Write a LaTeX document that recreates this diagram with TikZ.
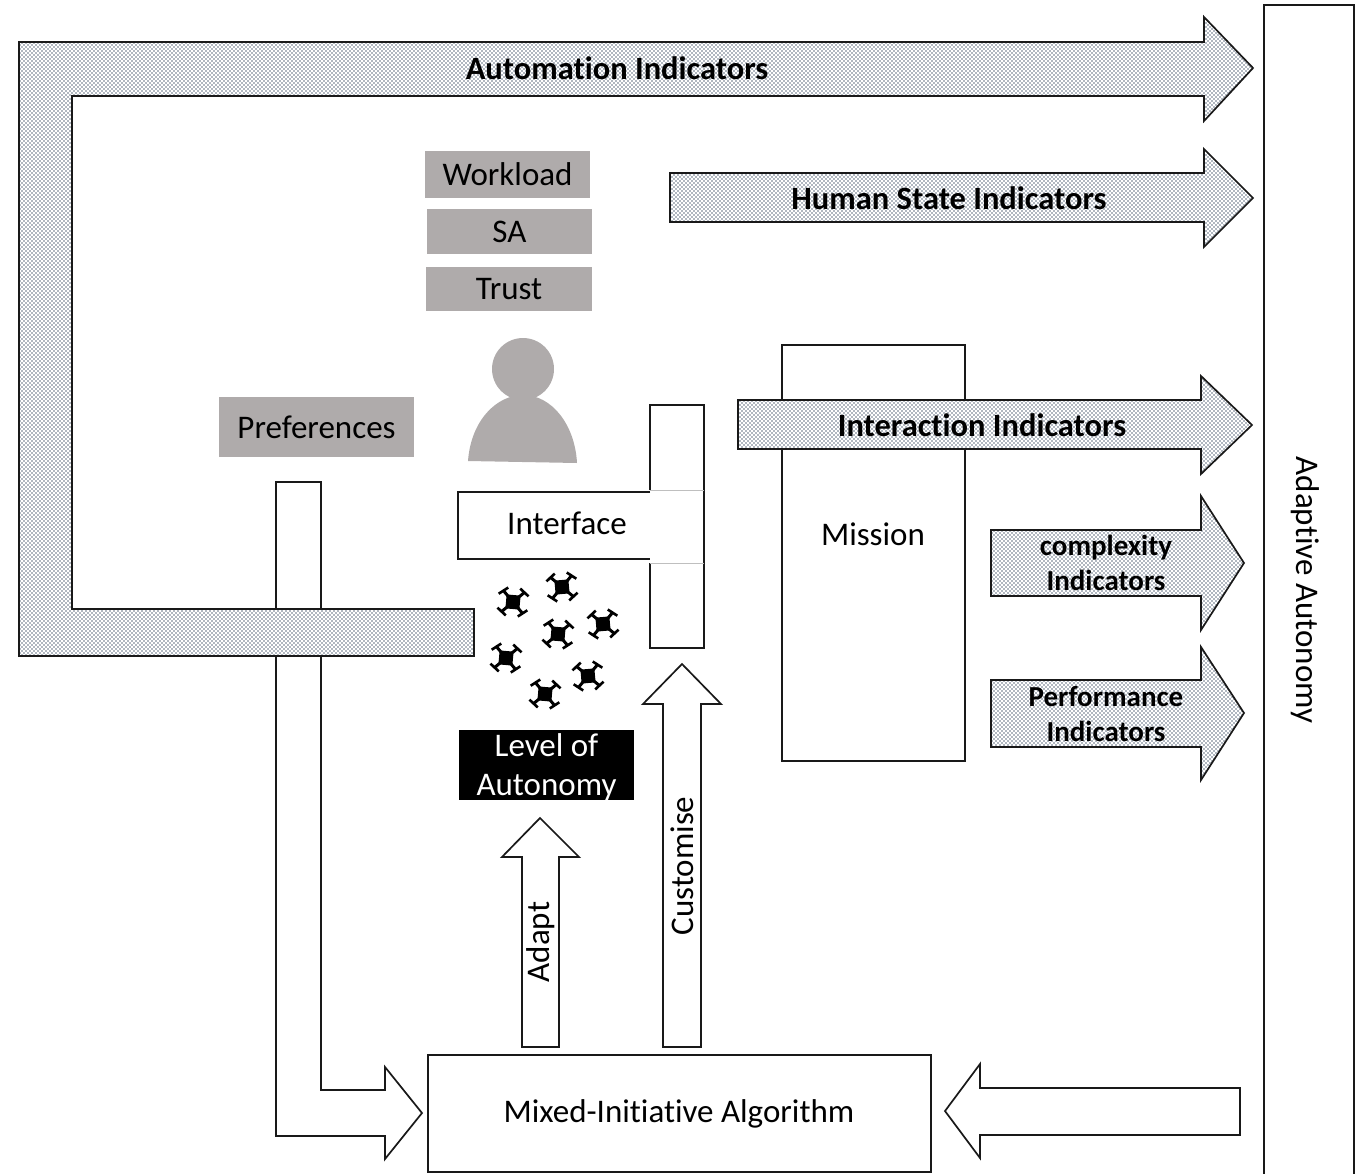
\documentclass[tikz,border=0pt]{standalone}
\usepackage{fontspec}
\setmainfont[RawFeature={-liga}]{Carlito}
\usetikzlibrary{patterns}
\definecolor{boxgrey}{HTML}{AFABAB}
\definecolor{dotblue}{HTML}{44546A}
\pgfdeclarepatternformonly{coarsedots}{\pgfqpoint{-1pt}{-1pt}}{\pgfqpoint{3pt}{3pt}}{\pgfqpoint{4pt}{4pt}}
{
  \pgfpathcircle{\pgfqpoint{0pt}{0pt}}{.8pt}
  \pgfpathcircle{\pgfqpoint{2pt}{2pt}}{.8pt}
  \pgfusepath{fill}
}
\tikzset{
  hatched/.style={draw=black!90, line width=1.7pt, pattern=coarsedots, pattern color=dotblue!85, preaction={fill=white}},
  hollow/.style={draw=black!90, line width=1.7pt, fill=white},
  greybox/.style={fill=boxgrey, inner sep=0pt},
  plainbox/.style={draw=black!90, line width=1.7pt, fill=white, inner sep=0pt},
  label/.style={font=\fontsize{33}{39}\selectfont, align=center},
  boldlabel/.style={font=\bfseries\fontsize{32.5}{35}\selectfont, align=center},
  smallbold/.style={font=\bfseries\fontsize{29}{35}\selectfont, align=center}
}
\begin{document}
\begin{tikzpicture}[x=1pt,y=-1pt]
\useasboundingbox (0,0) rectangle (1357,1173);

% frame boxes
\node (autonomy) at (1309,590) [plainbox, minimum width=90pt, minimum height=1170pt, anchor=center] {};
\node (algorithm) at (679.5,1113.5) [plainbox, minimum width=503pt, minimum height=117pt] {};
\node (mission) at (873.5,553) [plainbox, minimum width=183pt, minimum height=416pt] {};

% white arrows
\draw[hollow] (276,482) -- (321,482) -- (321,1090) -- (385,1090) -- (385,1067) -- (422,1113)
  -- (385,1159) -- (385,1136) -- (276,1136) -- cycle;
\draw[hollow] (522,1047) -- (522,857) -- (502,857) -- (540,818) -- (579,857) -- (559,857) -- (559,1047) -- cycle;
\draw[hollow] (663,1047) -- (663,704) -- (643,704) -- (682,664) -- (721,704) -- (701,704) -- (701,1047) -- cycle;
\draw[hollow] (1240,1088) -- (980,1088) -- (980,1064) -- (945,1111) -- (980,1158) -- (980,1135) -- (1240,1135) -- cycle;

% dotted arrows
\draw[hatched] (19,42) -- (1204,42) -- (1204,17) -- (1253,68) -- (1204,121) -- (1204,96) -- (72,96)
  -- (72,609) -- (474,609) -- (474,656) -- (19,656) -- cycle;
\draw[hatched] (670,173) -- (1204,173) -- (1204,149) -- (1253,198) -- (1204,247) -- (1204,222) -- (670,222) -- cycle;
\draw[hatched] (738,400) -- (1201,400) -- (1201,376) -- (1252,425) -- (1201,474) -- (1201,449) -- (738,449) -- cycle;
\draw[hatched] (991,530) -- (1201,530) -- (1201,496) -- (1244,563) -- (1201,630) -- (1201,596) -- (991,596) -- cycle;
\draw[hatched] (991,680) -- (1201,680) -- (1201,647) -- (1244,713) -- (1201,780) -- (1201,747) -- (991,747) -- cycle;

% interface
\draw[line width=1.7pt, draw=black!90] (650,492) -- (458,492) -- (458,559) -- (650,559);
\draw[line width=1.7pt, draw=black!90] (650,490) -- (650,405) -- (704,405) -- (704,648) -- (650,648) -- (650,563);
\draw[black!25] (650,490) -- (704,490);
\draw[black!25] (650,563) -- (704,563);

% operator
\fill[boxgrey] (523,369) circle (31);
\fill[boxgrey] (468,461) .. controls (471,420) and (497,395) .. (523,395)
  .. controls (552,395) and (575,425) .. (577,463) -- cycle;

% drones
\foreach \px/\py/\rot in {513/602/-5, 562/587/5, 558/634/-5, 603/624/5, 506/658/-5, 588/676/5, 545/694/-5}
{
  \begin{scope}[shift={(\px,\py)}, rotate=\rot]
  \fill[black] (-7,-7) rectangle (7,7);
  \draw[line width=3pt] (-11,-11) -- (11,11);
  \draw[line width=3pt] (-11,11) -- (11,-11);
  \foreach \ax/\ay in {-1/-1, 1/-1, 1/1, -1/1}
    \draw[line width=2.6pt] (\ax*15,\ay*7) -- (\ax*6,\ay*14);
  \end{scope}
}

% boxes with text
\node (workload) at (507.5,174.5) [greybox, minimum width=165pt, minimum height=47pt, label] {Workload};
\node (sa) at (509.5,231.5) [greybox, minimum width=165pt, minimum height=45pt, label] {SA};
\node (trust) at (509,289) [greybox, minimum width=166pt, minimum height=44pt, label] {Trust};
\node (preferences) at (316.5,427) [greybox, minimum width=195pt, minimum height=60pt, label] {Preferences};
\node (level) at (546.5,765) [fill=black, inner sep=0pt, minimum width=175pt, minimum height=70pt] {};
\node (leveltext) at (546.5,767) [text=white, label] {Level of\\Autonomy};

% labels
\node (interface) at (567,523) [label] {Interface};
\node (missiontext) at (873,534) [label] {Mission};
\node (algorithmtext) at (679,1114) [label] {Mixed-Initiative Algorithm};
\node (adapt) at (541,942) [label, rotate=90] {Adapt};
\node (customise) at (682,866) [label, rotate=90] {Customise};
\node (adaptive) at (1305,590) [label, rotate=-90] {Adaptive Autonomy};
\node (automation) at (617,68) [boldlabel] {Automation Indicators};
\node (human) at (949,198) [boldlabel] {Human State Indicators};
\node (interaction) at (982,425) [boldlabel] {Interaction Indicators};
\node (complexity) at (1106,563) [smallbold] {complexity\\Indicators};
\node (performance) at (1106,714) [smallbold] {Performance\\Indicators};
\end{tikzpicture}
\end{document}
